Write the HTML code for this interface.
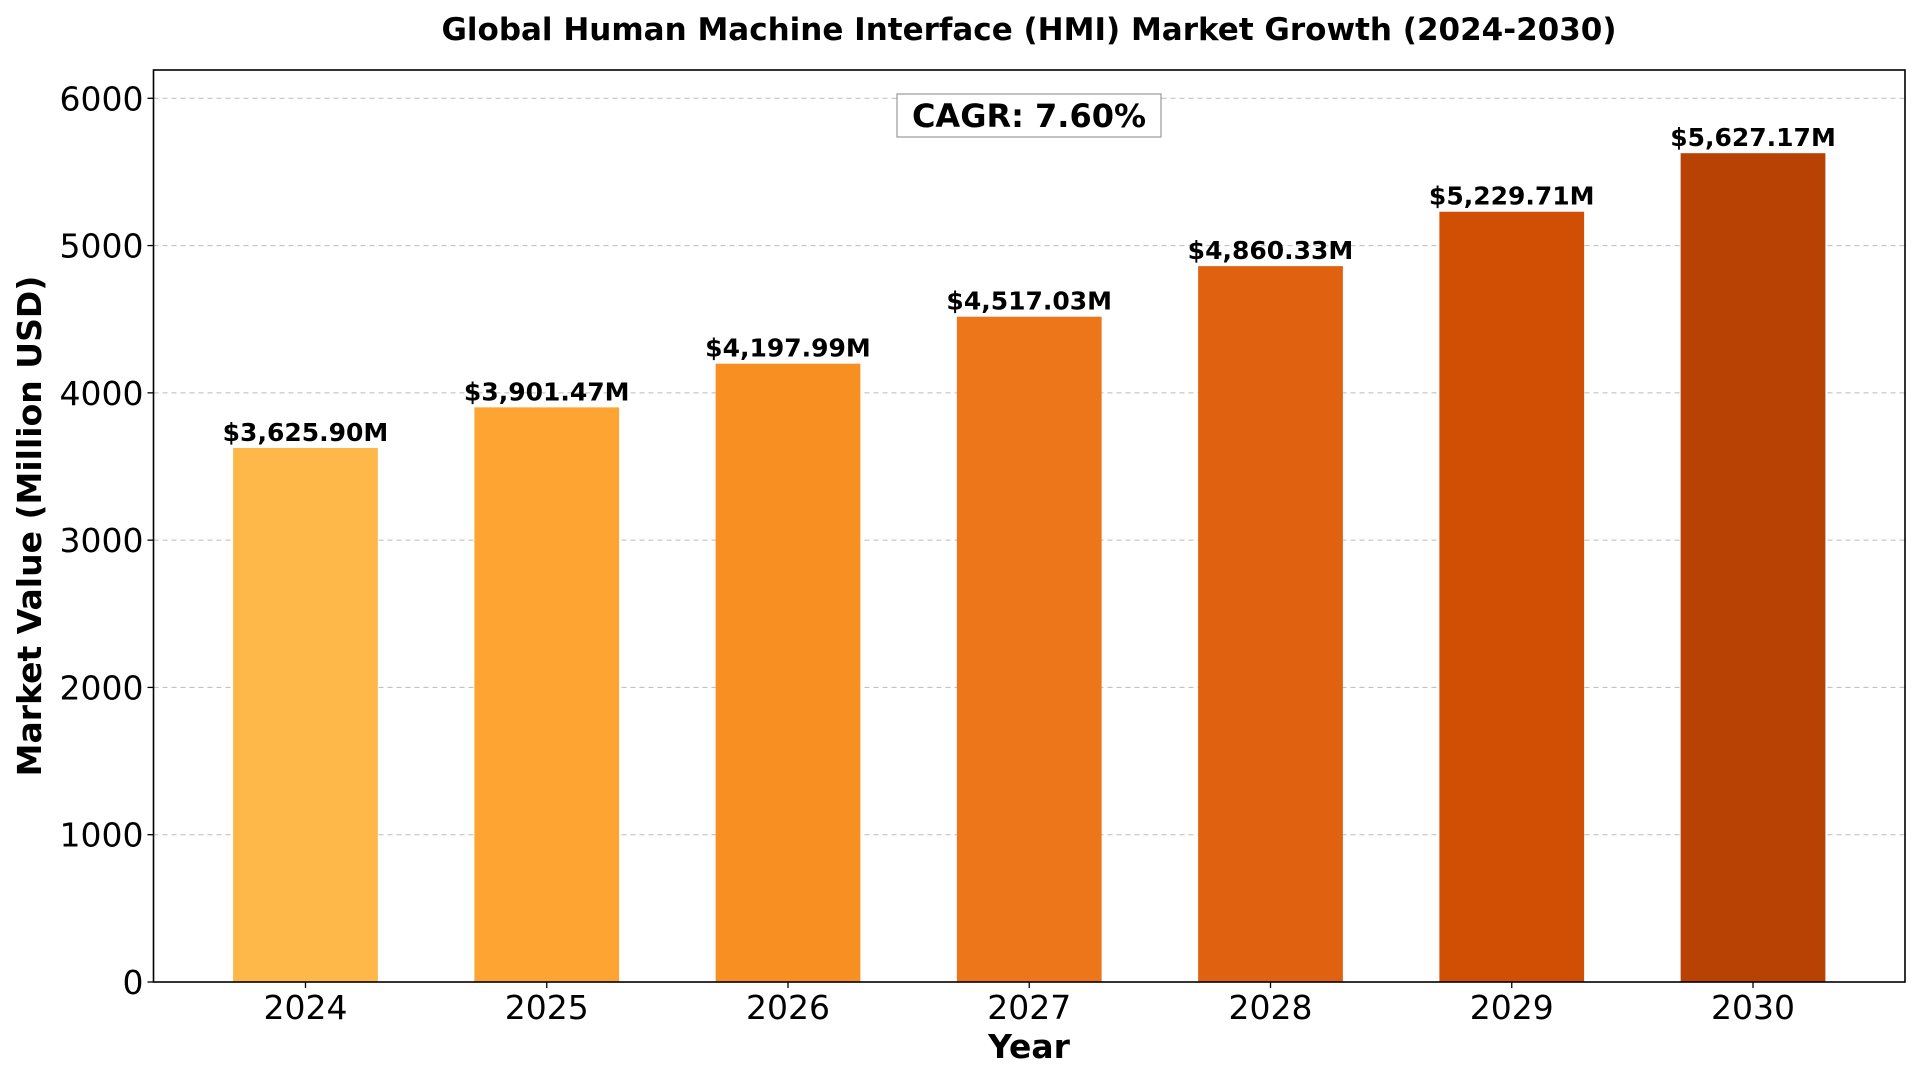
<!DOCTYPE html>
<html><head><meta charset="utf-8">
<style>
html,body{margin:0;padding:0;background:#fff;}
svg{display:block;font-family:"DejaVu Sans","Liberation Sans",sans-serif;}
</style></head>
<body>
<svg id="chart" width="1920" height="1080" viewBox="0 0 1920 1080" xmlns="http://www.w3.org/2000/svg">
<text x="1029" y="40" text-anchor="middle" font-size="31" font-weight="bold">Global Human Machine Interface (HMI) Market Growth (2024-2030)</text>
<g id="grid"></g>
<g id="bars"></g>
<g id="labels"></g>
<rect x="153.5" y="70" width="1751.5" height="912" fill="none" stroke="#000" stroke-width="1.6"/>
<g id="yaxis"></g>
<g id="xaxis"></g>
<rect x="897" y="94" width="264" height="43" fill="#fff" stroke="#999" stroke-width="1.2"/>
<text x="1029" y="127" text-anchor="middle" font-size="32" font-weight="bold">CAGR: 7.60%</text>
<text x="1029" y="1058" text-anchor="middle" font-size="33" font-weight="bold">Year</text>
<text transform="translate(41,526) rotate(-90)" text-anchor="middle" font-size="33" font-weight="bold">Market Value (Million USD)</text>
</svg>
<script>
const categories = ["2024","2025","2026","2027","2028","2029","2030"];
const values = [3625.90, 3901.47, 4197.99, 4517.03, 4860.33, 5229.71, 5627.17];
const valueLabels = ["$3,625.90M","$3,901.47M","$4,197.99M","$4,517.03M","$4,860.33M","$5,229.71M","$5,627.17M"];
const yTicks = [0,1000,2000,3000,4000,5000,6000];
const colors = ["#fdb849","#fda433","#f88f23","#ee761a","#e06211","#d04f04","#b84204"];

const NS="http://www.w3.org/2000/svg";
const L=153.5,R=1905,T=70,B=982;
const yMax=6192, xMin=-0.63, xMax=categories.length-1+0.63;
const y=v=>B-(v/yMax)*(B-T);
const x=i=>L+(i-xMin)/(xMax-xMin)*(R-L);
const bw=0.6*(x(1)-x(0));
function mk(tag,attrs,parent){const e=document.createElementNS(NS,tag);for(const k in attrs)e.setAttribute(k,attrs[k]);document.getElementById(parent).appendChild(e);return e;}

yTicks.forEach(t=>{
  if(t>0){const g=mk('line',{x1:L,x2:R,y1:y(t),y2:y(t),stroke:'#bbb','stroke-width':1,'stroke-dasharray':'5,4'},'grid');
  
  }
  const tk=mk('line',{x1:L-6,x2:L,y1:y(t),y2:y(t),stroke:'#000','stroke-width':1.3},'yaxis');
  
  
  const tx=mk('text',{x:L-10,y:y(t)+12,'text-anchor':'end','font-size':33},'yaxis');
  tx.textContent=t;
  
  
});
categories.forEach((c,i)=>{
  const r=mk('rect',{x:x(i)-bw/2,y:y(values[i]),width:bw,height:B-y(values[i]),fill:colors[i]},'bars');
  
  
  const lb=mk('text',{x:x(i),y:y(values[i])-7,'text-anchor':'middle','font-size':25,'font-weight':'bold'},'labels');
  lb.textContent=valueLabels[i];
  
  
  const tk=mk('line',{x1:x(i),x2:x(i),y1:B,y2:B+6,stroke:'#000','stroke-width':1.3},'xaxis');
  
  
  const tx=mk('text',{x:x(i),y:B+37,'text-anchor':'middle','font-size':33},'xaxis');
  tx.textContent=c;
  
  
});
</script>
</body></html>
